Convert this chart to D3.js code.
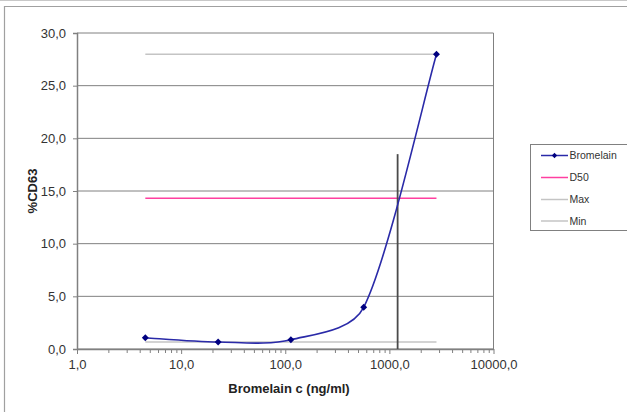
<!DOCTYPE html>
<html>
<head>
<meta charset="utf-8">
<script src="https://cdn.jsdelivr.net/npm/d3@7/dist/d3.min.js"></script>
<style>
  html, body { margin: 0; padding: 0; background: #fff; }
  svg { display: block; font-family: "Liberation Sans", Arial, sans-serif; }
</style>
</head>
<body>
<svg id="chart" width="627" height="412"></svg>
<script>
// Bromelain dose-response (%CD63), 1:5 dilution series
const concentrations = [4.53, 22.67, 113.3, 566.7, 2833];
const cd63 = [1.07, 0.66, 0.88, 3.96, 27.98];
const maxValue = 27.98;
const minValue = 0.66;
const d50Value = (maxValue + minValue) / 2;
const d50Concentration = 1200;
const d50MarkerTop = 18.5;
const yTicks = [0, 5, 10, 15, 20, 25, 30];
const xTicks = [1, 10, 100, 1000, 10000];
const legendItems = ["Bromelain", "D50", "Max", "Min"];

const fmt = v => d3.format(".1f")(v).replace(".", ",");

// Spreadsheet-style smoothing: Catmull-Rom tangents (1/6 of the neighbour chord),
// with each handle kept within a third of the segment it belongs to.
function curveSmoothClamped(context) {
  let pts = [];
  return {
    lineStart() { pts = []; },
    point(x, y) { pts.push([+x, +y]); },
    lineEnd() {
      const n = pts.length;
      if (!n) return;
      context.moveTo(pts[0][0], pts[0][1]);
      const clamp = (v, len) => {
        const l = Math.hypot(v[0], v[1]);
        const lim = len / 3;
        return l > lim && l > 0 ? [v[0] * lim / l, v[1] * lim / l] : v;
      };
      for (let i = 0; i < n - 1; i++) {
        const p0 = pts[Math.max(i - 1, 0)], p1 = pts[i], p2 = pts[i + 1], p3 = pts[Math.min(i + 2, n - 1)];
        const seg = Math.hypot(p2[0] - p1[0], p2[1] - p1[1]);
        const t1 = clamp([(p2[0] - p0[0]) / 6, (p2[1] - p0[1]) / 6], seg);
        const t2 = clamp([(p3[0] - p1[0]) / 6, (p3[1] - p1[1]) / 6], seg);
        context.bezierCurveTo(p1[0] + t1[0], p1[1] + t1[1], p2[0] - t2[0], p2[1] - t2[1], p2[0], p2[1]);
      }
    },
    areaStart() {}, areaEnd() {}
  };
}

const svg = d3.select("#chart");
const plot = { left: 77, top: 33, right: 493.5, bottom: 349 };

const x = d3.scaleLog().domain([1, 10000]).range([plot.left, plot.right]);
const y = d3.scaleLinear().domain([0, 30]).range([plot.bottom, plot.top]);

// outer chart frame
svg.append("line").attr("x1", 0).attr("x2", 627).attr("y1", 0.5).attr("y2", 0.5)
  .attr("stroke", "#c8c8c8").attr("stroke-width", 1);
svg.append("path").attr("d", "M4.5,412 V6.5 H627")
  .attr("fill", "none").attr("stroke", "#a0a0a0").attr("stroke-width", 1.2);

// horizontal gridlines
svg.append("g").selectAll("line").data(yTicks).join("line")
  .attr("x1", plot.left).attr("x2", plot.right)
  .attr("y1", d => y(d)).attr("y2", d => y(d))
  .attr("stroke", "#808080").attr("stroke-width", 1);

// right plot border
svg.append("line").attr("x1", plot.right).attr("x2", plot.right)
  .attr("y1", plot.top).attr("y2", plot.bottom)
  .attr("stroke", "#808080").attr("stroke-width", 1);

// y axis
const yAxis = d3.axisLeft(y).tickValues(yTicks).tickFormat(fmt).tickSize(4).tickPadding(7);
const gy = svg.append("g").attr("transform", `translate(${plot.left},0)`).call(yAxis);
gy.select(".domain").attr("stroke", "#808080").attr("stroke-width", 1.5);
gy.selectAll(".tick line").attr("stroke", "#808080");
gy.selectAll("text").attr("font-size", 13).attr("fill", "#333")
  .attr("font-family", "Liberation Sans, Arial, sans-serif");

// x axis (log) with minor ticks
const minorTicks = x.ticks().filter(v => !xTicks.includes(v));
const gxMinor = svg.append("g").attr("transform", `translate(0,${plot.bottom})`)
  .call(d3.axisBottom(x).tickValues(minorTicks).tickFormat("").tickSize(4).tickSizeOuter(0));
gxMinor.select(".domain").remove();
gxMinor.selectAll(".tick line").attr("stroke", "#808080");

const gx = svg.append("g").attr("transform", `translate(0,${plot.bottom})`)
  .call(d3.axisBottom(x).tickValues(xTicks).tickFormat(fmt).tickSize(5).tickSizeOuter(0).tickPadding(6));
gx.select(".domain").attr("stroke", "#808080").attr("stroke-width", 1.5);
gx.selectAll(".tick line").attr("stroke", "#808080");
gx.selectAll("text").attr("font-size", 13).attr("fill", "#333")
  .attr("font-family", "Liberation Sans, Arial, sans-serif");

// axis titles
svg.append("text").attr("x", 289).attr("y", 393).attr("text-anchor", "middle")
  .attr("font-size", 13).attr("font-weight", "bold").attr("fill", "#222")
  .text("Bromelain c (ng/ml)");
svg.append("text").attr("transform", `translate(37,${(plot.top + plot.bottom) / 2}) rotate(-90)`)
  .attr("text-anchor", "middle").attr("font-size", 13).attr("font-weight", "bold").attr("fill", "#222")
  .text("%CD63");

// reference lines spanning the measured range
const xStart = x(concentrations[0]);
const xEnd = x(concentrations[concentrations.length - 1]);
const refLine = (v, color) => svg.append("line")
  .attr("x1", xStart).attr("x2", xEnd).attr("y1", y(v)).attr("y2", y(v))
  .attr("stroke", color).attr("stroke-width", 1.5);
refLine(maxValue, "#c4c4c4");
refLine(minValue, "#c4c4c4");
refLine(d50Value, "#ff3fa0");

// D50 marker
svg.append("line").attr("x1", x(d50Concentration)).attr("x2", x(d50Concentration))
  .attr("y1", y(d50MarkerTop)).attr("y2", y(0))
  .attr("stroke", "#4a4a4a").attr("stroke-width", 1.8);

// smoothed dose-response curve
const pts = concentrations.map((c, i) => [x(c), y(cd63[i])]);
svg.append("path").attr("d", d3.line().curve(curveSmoothClamped)(pts))
  .attr("fill", "none").attr("stroke", "#2a2aa8").attr("stroke-width", 1.6);

// diamond markers (square turned 45 degrees)
const marker = d3.symbol().type(d3.symbolSquare).size(24);
svg.append("g").selectAll("path").data(pts).join("path")
  .attr("transform", d => `translate(${d[0]},${d[1]}) rotate(45)`)
  .attr("d", marker).attr("fill", "#000080");

// legend
const lg = svg.append("g");
lg.append("rect").attr("x", 530.5).attr("y", 144.5).attr("width", 100).attr("height", 86)
  .attr("fill", "#fff").attr("stroke", "#808080").attr("stroke-width", 1);
const legendStyles = [
  { color: "#2a2aa8", marker: true },
  { color: "#ff3fa0", marker: false },
  { color: "#c4c4c4", marker: false },
  { color: "#c4c4c4", marker: false }
];
const rowY = [155.5, 177.5, 199.5, 221];
legendItems.forEach((name, i) => {
  const st = legendStyles[i];
  lg.append("line").attr("x1", 541).attr("x2", 568).attr("y1", rowY[i]).attr("y2", rowY[i])
    .attr("stroke", st.color).attr("stroke-width", 1.5);
  if (st.marker) {
    lg.append("path").attr("transform", `translate(554.5,${rowY[i]}) rotate(45)`)
      .attr("d", d3.symbol().type(d3.symbolSquare).size(14)).attr("fill", "#000080");
  }
  lg.append("text").attr("x", 569.5).attr("y", rowY[i]).attr("dy", "0.36em")
    .attr("font-size", 10.5).attr("fill", "#333").text(name);
});
</script>
</body>
</html>
